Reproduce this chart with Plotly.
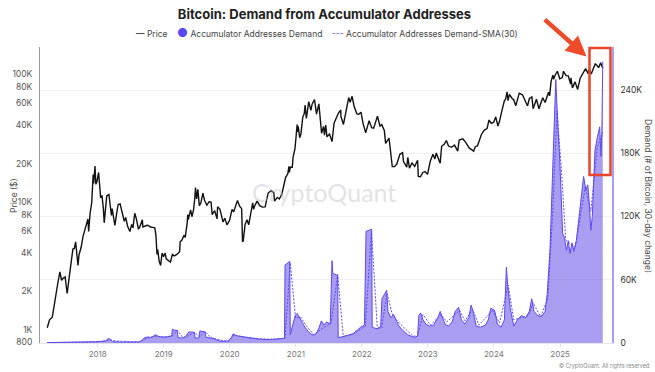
import plotly.graph_objects as go

# ---------------- data ----------------
price_dates = ["2017-03-28","2017-04-10","2017-04-25","2017-05-10","2017-05-25","2017-06-06","2017-06-15","2017-06-25","2017-07-05","2017-07-16","2017-07-25","2017-08-05","2017-08-17","2017-08-25","2017-09-01","2017-09-14","2017-09-20","2017-10-01","2017-10-12","2017-10-20","2017-11-01","2017-11-08","2017-11-12","2017-11-20","2017-11-29","2017-12-07","2017-12-10","2017-12-17","2017-12-22","2017-12-28",
"2018-01-06","2018-01-12","2018-01-17","2018-01-25","2018-02-01","2018-02-06","2018-02-14","2018-02-20","2018-03-04","2018-03-12","2018-03-18","2018-03-22","2018-04-01","2018-04-06","2018-04-15","2018-04-24","2018-05-05","2018-05-15","2018-05-28","2018-06-05","2018-06-15","2018-06-28","2018-07-08","2018-07-15","2018-07-25","2018-08-02","2018-08-14","2018-08-20","2018-08-30","2018-09-05","2018-09-08","2018-09-20","2018-10-01","2018-10-10","2018-10-20","2018-11-01","2018-11-13","2018-11-19","2018-11-25","2018-11-29","2018-12-07","2018-12-15","2018-12-23","2018-12-31",
"2019-01-09","2019-01-15","2019-01-28","2019-02-07","2019-02-18","2019-02-28","2019-03-15","2019-03-30","2019-04-02","2019-04-12","2019-04-23","2019-04-30","2019-05-11","2019-05-14","2019-05-17","2019-05-30","2019-06-06","2019-06-15","2019-06-22","2019-06-26","2019-07-02","2019-07-09","2019-07-17","2019-07-25","2019-08-06","2019-08-15","2019-08-28","2019-09-10","2019-09-20","2019-09-26","2019-10-10","2019-10-23","2019-10-26","2019-11-08","2019-11-22","2019-11-25","2019-12-05","2019-12-17","2019-12-31",
"2020-01-14","2020-01-23","2020-02-05","2020-02-13","2020-02-25","2020-03-07","2020-03-12","2020-03-16","2020-03-26","2020-04-06","2020-04-15","2020-04-29","2020-05-07","2020-05-12","2020-05-20","2020-06-01","2020-06-15","2020-06-30","2020-07-15","2020-07-27","2020-08-01","2020-08-17","2020-09-01","2020-09-05","2020-09-20","2020-10-01","2020-10-15","2020-10-27","2020-11-05","2020-11-17","2020-11-24","2020-11-26","2020-12-01","2020-12-12","2020-12-17","2020-12-27",
"2021-01-02","2021-01-08","2021-01-11","2021-01-14","2021-01-22","2021-01-29","2021-02-08","2021-02-16","2021-02-21","2021-02-28","2021-03-13","2021-03-25","2021-04-01","2021-04-14","2021-04-25","2021-05-03","2021-05-08","2021-05-13","2021-05-19","2021-05-23","2021-06-03","2021-06-08","2021-06-15","2021-06-22","2021-07-06","2021-07-20","2021-07-31","2021-08-14","2021-08-23","2021-09-06","2021-09-07","2021-09-21","2021-10-01","2021-10-15","2021-10-20","2021-10-28","2021-11-08","2021-11-18","2021-11-26","2021-12-04","2021-12-15","2021-12-27",
"2022-01-07","2022-01-22","2022-02-10","2022-02-24","2022-03-07","2022-03-28","2022-04-11","2022-04-21","2022-05-05","2022-05-12","2022-05-31","2022-06-13","2022-06-18","2022-06-30","2022-07-13","2022-07-30","2022-08-14","2022-08-19","2022-09-06","2022-09-12","2022-09-21","2022-10-05","2022-10-20","2022-11-05","2022-11-09","2022-11-21","2022-12-04","2022-12-15","2022-12-30",
"2023-01-14","2023-01-29","2023-02-09","2023-02-16","2023-03-10","2023-03-18","2023-04-01","2023-04-13","2023-04-25","2023-05-11","2023-05-28","2023-06-15","2023-06-23","2023-07-13","2023-07-30","2023-08-17","2023-09-11","2023-09-20","2023-10-02","2023-10-24","2023-11-09","2023-11-24","2023-12-05","2023-12-17","2023-12-31",
"2024-01-11","2024-01-23","2024-02-01","2024-02-14","2024-02-28","2024-03-05","2024-03-14","2024-03-19","2024-03-27","2024-04-13","2024-04-19","2024-05-01","2024-05-20","2024-06-07","2024-06-24","2024-07-05","2024-07-15","2024-07-29","2024-08-05","2024-08-23","2024-09-06","2024-09-27","2024-10-10","2024-10-29","2024-11-04","2024-11-12","2024-11-22","2024-11-26","2024-12-05","2024-12-17","2024-12-30",
"2025-01-08","2025-01-13","2025-01-20","2025-01-27","2025-02-03","2025-02-15","2025-02-28","2025-03-02","2025-03-10","2025-03-25","2025-04-08","2025-04-22","2025-05-08","2025-05-22","2025-06-05","2025-06-10","2025-06-22","2025-07-03","2025-07-14","2025-07-23","2025-08-02","2025-08-13","2025-08-19","2025-08-25"]
price_usd = [1040,1200,1260,1750,2300,2850,2450,2550,2600,1930,2550,3200,4300,4350,4900,3200,3900,4400,5400,6000,6700,7400,5900,8200,9900,16500,14000,19200,13800,14500,
17100,13800,11000,11200,9100,6900,9500,11200,11500,9200,7900,8900,6900,6600,8000,9600,9700,8500,7100,7600,6500,5900,6700,6300,8200,7500,6200,6300,6950,7300,6400,6500,6600,6550,6400,6350,6300,5500,3900,4250,3450,3200,4000,3750,
4000,3600,3450,3400,3900,3800,3900,4100,4900,5050,5500,5300,6900,8000,7300,8700,7700,8700,10700,13000,10600,12600,9400,9800,11800,10300,9500,10100,10000,8000,8600,7400,9200,8800,7300,7000,7500,6650,7200,
8800,8400,9600,10300,9300,8900,4900,5000,6700,7300,6650,8800,9900,8800,9500,10200,9400,9150,9200,11000,11800,12300,11900,10200,10900,10600,11500,13700,15600,16700,19100,17100,18800,18800,22800,26300,
32000,40500,35500,39200,32000,34300,46400,49200,57500,45200,61200,52300,58800,63500,49000,57000,58800,49700,37000,34700,39200,33500,40200,32500,34200,29800,41600,47100,49500,52700,46900,40600,48200,61600,66000,60600,67500,56900,53600,49200,48900,50700,
41600,35000,43500,38300,38000,47100,39500,40500,36500,28900,31800,22500,19000,19000,19900,23700,24400,20800,18800,22400,18500,20300,19100,21300,15900,15800,17100,17400,16550,
20900,23700,21800,24300,20200,27400,28400,30400,27500,26900,28000,25100,30700,31400,29300,26600,25100,27200,27600,33900,36700,37700,44000,41400,42300,
46600,39500,43000,51800,62500,63800,73100,62400,69900,64000,63800,57000,71400,69300,60300,56700,64800,66800,54000,64000,53900,65800,60300,72700,68000,88000,98900,91900,99000,106000,92500,
94700,94500,106000,102000,98000,97500,84300,94200,78500,87500,76300,93400,103000,111000,101500,110000,100900,109500,121000,118000,113000,123300,115000,112000]

demand_dates = ["2017-03-28","2017-07-01","2017-10-01","2017-12-20","2018-01-25","2018-02-15","2018-02-22","2018-03-05","2018-03-15","2018-03-25","2018-05-01","2018-07-01","2018-08-15",
"2018-09-05","2018-09-15","2018-10-05","2018-10-20","2018-11-05","2018-11-15","2018-12-05","2018-12-25","2019-01-15","2019-02-14","2019-02-18","2019-03-05","2019-03-16","2019-03-22","2019-04-15","2019-05-01",
"2019-05-20","2019-06-10","2019-06-20","2019-06-24","2019-07-15","2019-07-20","2019-08-05","2019-08-18","2019-08-22","2019-09-15","2019-10-10","2019-10-25","2019-11-20","2019-12-20",
"2020-01-10","2020-01-20","2020-02-05","2020-02-20","2020-03-10","2020-03-25","2020-04-15","2020-05-15","2020-06-20","2020-08-01","2020-09-15","2020-10-20","2020-10-30",
"2020-11-02","2020-11-15","2020-11-28","2020-12-01","2020-12-15","2020-12-28","2021-01-08","2021-01-20","2021-02-05","2021-02-20","2021-03-10","2021-03-25","2021-04-08",
"2021-04-25","2021-05-10","2021-05-22","2021-06-05","2021-06-20","2021-07-10","2021-07-20","2021-07-24","2021-08-20","2021-08-23","2021-09-20","2021-10-20","2021-11-15","2021-12-05","2021-12-25","2022-01-15",
"2022-01-24","2022-02-10","2022-02-24","2022-02-27","2022-03-15","2022-04-05","2022-04-15","2022-04-22","2022-05-10","2022-05-18","2022-05-25","2022-06-10","2022-06-25","2022-07-10","2022-07-25","2022-08-15","2022-09-10","2022-10-05","2022-10-25",
"2022-11-05","2022-11-12","2022-11-22","2022-12-05","2022-12-20","2023-01-10","2023-02-01","2023-02-25","2023-03-10","2023-03-20","2023-04-05","2023-04-25",
"2023-05-15","2023-06-01","2023-06-20","2023-07-05","2023-07-25","2023-08-15","2023-08-28","2023-09-08","2023-09-25","2023-10-20","2023-11-15",
"2023-12-01","2023-12-15","2024-01-05","2024-01-20","2024-02-10","2024-02-28","2024-03-10","2024-03-18","2024-04-01","2024-04-20",
"2024-05-10","2024-06-01","2024-06-25","2024-07-15","2024-07-28","2024-08-10","2024-08-30","2024-09-20","2024-10-10","2024-10-22","2024-11-06","2024-11-20","2024-12-08","2024-12-20","2024-12-30",
"2025-01-15","2025-01-25","2025-02-05","2025-02-15","2025-02-25","2025-03-08","2025-03-18","2025-04-01","2025-04-16","2025-05-01","2025-05-11","2025-05-23","2025-06-03","2025-06-11","2025-06-20","2025-06-28","2025-07-03","2025-07-13","2025-07-27","2025-08-08","2025-08-15","2025-08-20","2025-08-25"]
demand_k = [0.4,0.5,0.7,1.2,1.5,1.8,3.5,4.2,3.0,1.2,0.9,0.8,1.0,
2.5,4.8,5.8,5.2,6.5,7.8,6.2,5.5,5.8,6.5,13.0,12.0,12.2,5.0,4.8,6.0,
10.5,10.0,10.2,4.5,5.0,11.5,11.0,10.5,5.5,4.5,4.0,2.5,1.5,1.8,
5.0,8.8,7.0,6.5,6.0,5.5,5.0,4.0,3.5,3.2,3.5,4.0,4.5,
74.0,76.0,77.5,8.0,18.0,26.0,28.0,24.0,20.0,15.0,11.0,8.5,7.5,
9.0,15.0,21.0,17.0,20.0,18.0,78.0,66.0,64.0,5.0,6.0,7.5,9.0,12.0,15.0,17.0,
106.0,107.0,108.0,15.0,14.0,13.5,16.0,42.0,48.0,50.0,30.0,24.0,27.0,22.0,16.0,12.0,8.0,6.0,5.5,
7.0,26.0,28.5,22.0,18.0,16.0,17.0,24.0,30.0,25.0,18.0,16.0,
20.0,30.0,34.0,22.0,18.0,24.0,36.0,30.0,16.0,15.0,17.0,
22.0,33.0,31.0,18.0,15.0,22.0,72.0,53.0,32.0,16.0,
22.0,26.0,24.0,30.0,42.0,30.0,26.0,25.0,30.0,47.0,88.0,169.0,250.0,205.0,174.0,
104.0,100.0,88.0,97.0,85.0,95.0,87.0,97.0,120.0,145.0,158.0,145.0,150.0,133.0,107.0,120.0,145.0,183.0,196.0,205.0,177.0,199.0,267.0]

sma_dates = ["2017-03-28","2017-12-31","2018-03-10","2018-04-10","2018-08-15","2018-10-01","2018-11-15","2019-01-15","2019-02-18","2019-03-18","2019-04-18","2019-05-20","2019-06-20","2019-07-20","2019-08-18","2019-09-18","2019-11-15","2019-12-25",
"2020-01-25","2020-03-01","2020-05-01","2020-09-01","2020-11-02","2020-12-01","2020-12-30","2021-01-25","2021-03-01","2021-04-10","2021-05-20","2021-07-15","2021-08-20","2021-09-20","2021-11-15",
"2022-01-20","2022-02-23","2022-03-27","2022-04-20","2022-05-20","2022-06-20","2022-08-01","2022-10-10","2022-11-05","2022-12-05","2023-01-15","2023-03-15","2023-04-15","2023-06-25","2023-07-25","2023-09-05","2023-10-10","2023-12-25",
"2024-02-01","2024-03-20","2024-04-20","2024-07-10","2024-08-05","2024-09-15","2024-10-25","2024-11-20","2024-12-15","2025-01-10","2025-02-01","2025-03-25","2025-05-20","2025-06-20","2025-07-25","2025-08-25"]
sma_k = [0.4,1.0,3.0,2.0,0.9,4.5,6.2,5.8,7.0,12.0,5.0,7.0,10.0,6.0,11.0,5.0,2.5,1.7,
7.5,6.5,4.5,3.4,4.5,76.0,24.0,25.0,16.0,8.0,13.0,19.0,65.0,6.0,8.5,
16.0,106.0,15.0,14.5,47.0,26.0,18.0,6.5,6.5,27.0,17.0,27.0,20.0,31.0,21.0,32.0,17.0,31.0,
19.0,55.0,22.0,26.0,38.0,25.0,42.0,120.0,220.0,160.0,98.0,90.0,148.0,125.0,185.0,200.0]

price_tickvals = [800, 1000, 2000, 4000, 6000, 8000, 10000, 20000, 40000, 60000, 80000, 100000]
price_ticktext = ["800", "1K", "2K", "4K", "6K", "8K", "10K", "20K", "40K", "60K", "80K", "100K"]
demand_tickvals = [0, 60000, 120000, 180000, 240000]
demand_ticktext = ["0", "60K", "120K", "180K", "240K"]

# ---------------- figure ----------------
PURPLE = "#5a49f0"
FONT = "Inter"

demand_abs = [v * 1000 for v in demand_k]
sma_abs = [v * 1000 for v in sma_k]

fig = go.Figure()
fig.add_trace(go.Scatter(x=demand_dates, y=demand_abs, yaxis="y2", mode="lines",
                         line=dict(color=PURPLE, width=1), fill="tozeroy",
                         fillcolor="rgba(112,92,232,0.6)", showlegend=False,
                         name="Accumulator Addresses Demand"))
fig.add_trace(go.Scatter(x=sma_dates, y=sma_abs, yaxis="y2", mode="lines",
                         line=dict(color=PURPLE, width=1, dash="2px,1.5px"),
                         showlegend=False, name="Accumulator Addresses Demand-SMA(30)"))
fig.add_trace(go.Scatter(x=price_dates, y=price_usd, mode="lines",
                         line=dict(color="#111111", width=1.4), showlegend=False, name="Price"))

W, H = 655, 372
L, R, T, B = 40, 43, 47, 29
pw, ph = W - L - R, H - T - B

def px(x):
    return (x - L) / pw

def py(y):
    return (H - B - y) / ph

fig.update_layout(
    width=W, height=H,
    margin=dict(l=L, r=R, t=T, b=B, autoexpand=False),
    paper_bgcolor="white", plot_bgcolor="white",
    font=dict(family=FONT, color="#444"),
    title=dict(text="<b>Bitcoin: Demand from Accumulator Addresses</b>", x=324.5 / W, xanchor="center",
               y=1 - 14.5 / H, yanchor="middle", font=dict(size=13, color="#222", family=FONT)),
    xaxis=dict(type="date", range=["2017-02-16", "2025-10-15"], tickformat="%Y",
               dtick="M12", tick0="2018-01-01", showgrid=False, showline=True,
               linecolor="#e6e6e6", ticks="outside", ticklen=3, tickcolor="#e0e0e0",
               tickfont=dict(size=8, color="#777"), zeroline=False, automargin=False),
    yaxis=dict(type="log", range=[2.898, 5.215], tickvals=price_tickvals, ticktext=price_ticktext,
               showgrid=False, showline=True, linecolor="#9a9a9a", linewidth=1, ticks="",
               ticklabelstandoff=5, tickfont=dict(size=8.5, color="#555"), zeroline=False,
               automargin=False),
    yaxis2=dict(overlaying="y", side="right", range=[0, 280800], tickvals=demand_tickvals,
                ticktext=demand_ticktext, showgrid=True, gridcolor="#f1f1f1", showline=True,
                linecolor="#a99cf5", linewidth=1.5, ticks="", ticklabelstandoff=5,
                tickfont=dict(size=8.5, color="#333"), zeroline=False, automargin=False),
    showlegend=False,
)

ann = []
# legend
ann.append(dict(xref="paper", yref="paper", x=px(327), y=py(32.5), xanchor="center", yanchor="middle",
                showarrow=False, font=dict(size=8.5, color="#444", family=FONT),
                text="<span style='color:#222'>—</span> Price    "
                     "<span style='color:%s;font-size:12px'>●</span> Accumulator Addresses Demand    "
                     "<span style='color:%s'>---</span> Accumulator Addresses Demand-SMA(30)" % (PURPLE, PURPLE)))
# axis titles
ann.append(dict(xref="paper", yref="paper", x=px(7), y=py(196), textangle=-90, showarrow=False,
                text="Price ($)", font=dict(size=8.5, color="#444", family=FONT)))
ann.append(dict(xref="paper", yref="paper", x=px(648), y=py(196), textangle=90, showarrow=False,
                xanchor="center", text="Demand (# of Bitcoin, 30-day change)",
                font=dict(size=8.5, color="#444", family=FONT)))
# watermark
ann.append(dict(xref="paper", yref="paper", x=px(324), y=py(192), showarrow=False,
                text="CryptoQuant", font=dict(size=25, color="rgba(190,190,198,0.45)", family="Lato")))
# footer
ann.append(dict(xref="paper", yref="paper", x=px(651), y=py(366), xanchor="right", yanchor="middle",
                showarrow=False, text="© CryptoQuant. All rights reserved",
                font=dict(size=5.5, color="#888", family=FONT)))
# red arrow
ann.append(dict(xref="paper", yref="paper", x=px(586.5), y=py(56.5), ax=543.3 - 586.5, ay=18.3 - 56.5,
                axref="pixel", ayref="pixel", text="", showarrow=True, arrowhead=2, arrowsize=0.9,
                arrowwidth=4.5, arrowcolor="#ee4b2b", standoff=0))
fig.update_layout(annotations=ann)

fig.add_shape(type="rect", xref="paper", yref="paper", x0=px(589.5), x1=px(610.5), y0=py(175), y1=py(48),
              line=dict(color="#e8452c", width=2.5), fillcolor="rgba(0,0,0,0)", layer="above")

fig.write_html("out.html", config={"displayModeBar": False},
               post_script="document.body.style.margin='0';document.body.style.padding='0';"
                           "document.body.style.overflow='hidden';")
